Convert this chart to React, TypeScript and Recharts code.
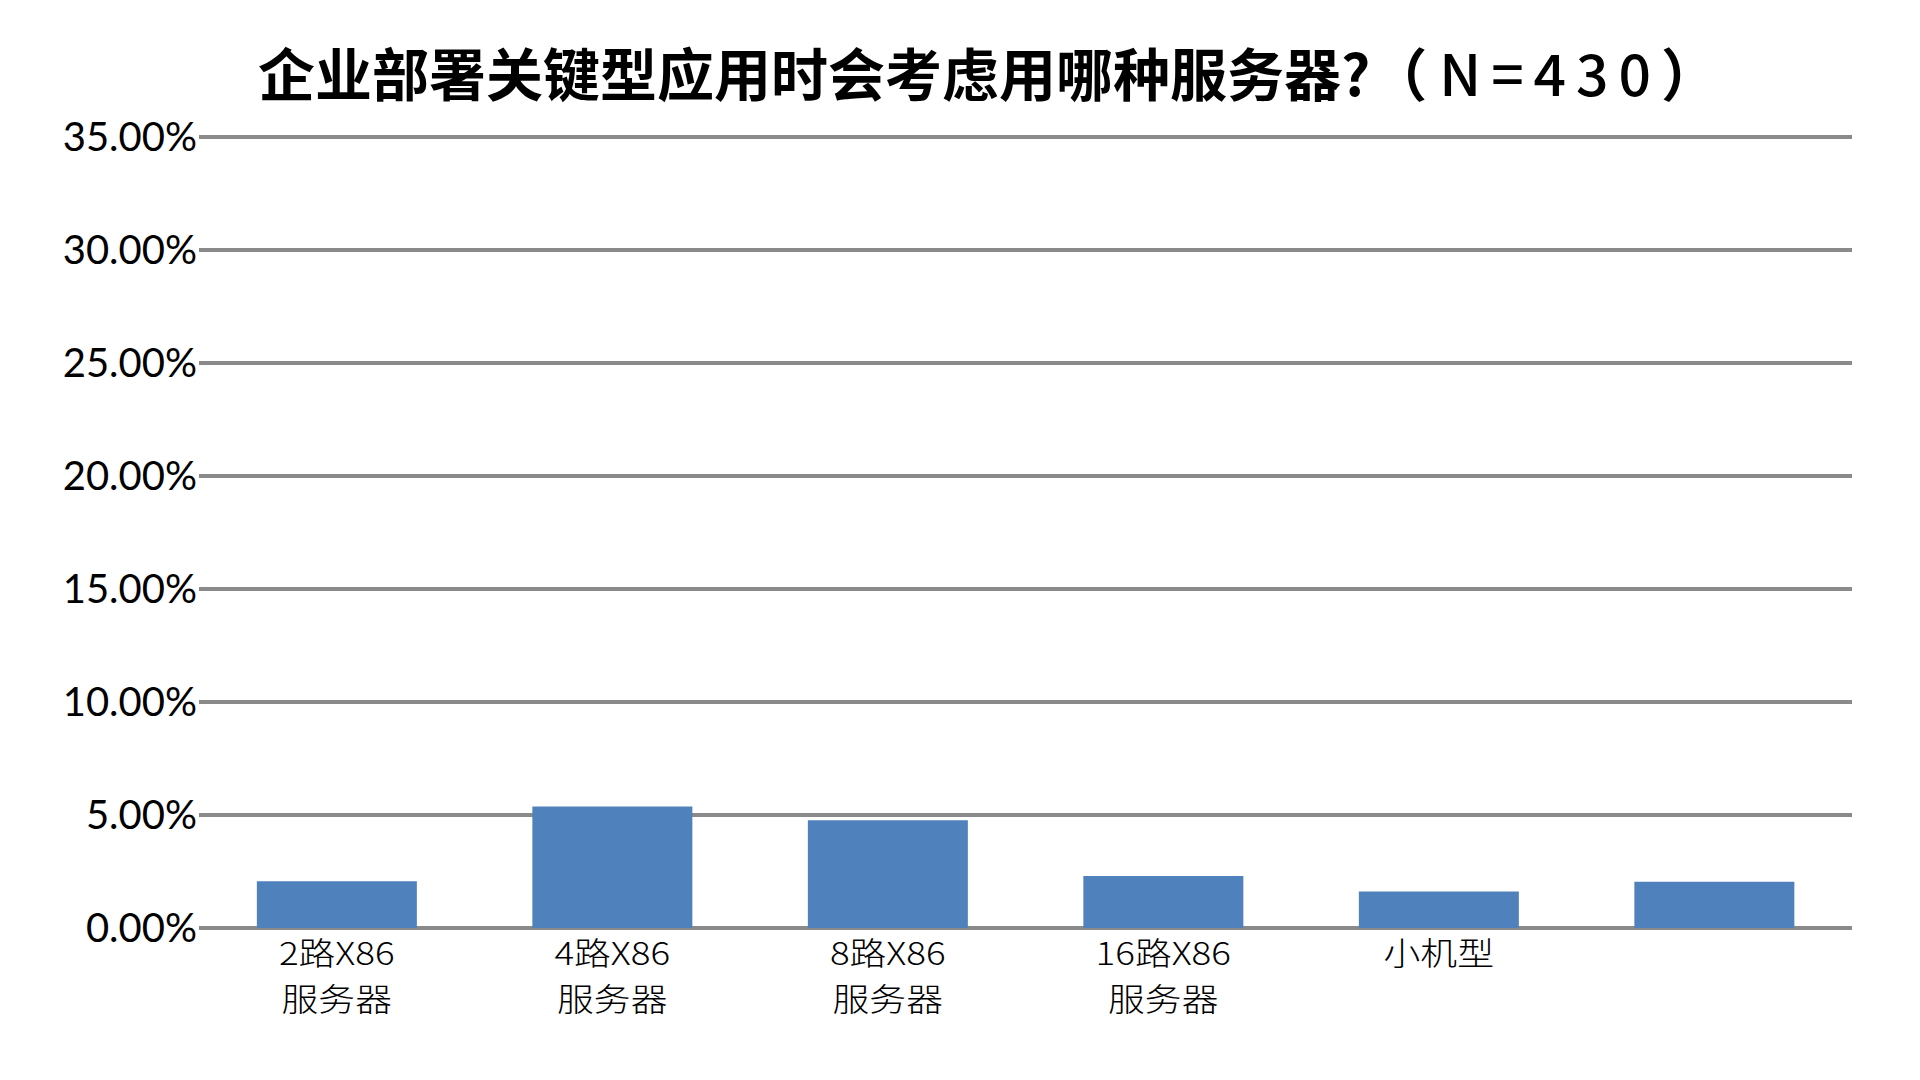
import { BarChart, Bar, XAxis, YAxis, CartesianGrid } from "recharts";

const categories = ["2路X86\n服务器", "4路X86\n服务器", "8路X86\n服务器", "16路X86\n服务器", "小机型", ""];
const shares = [0.0207, 0.0538, 0.0477, 0.023, 0.0162, 0.0205];
const yTicks = [0, 0.05, 0.1, 0.15, 0.2, 0.25, 0.3, 0.35];

const data = categories.map((name, i) => ({ name, share: shares[i] }));

// two-line category label, slightly widened like the original's narrow-tall glyphs
const CategoryTick = (props: any) => {
  const { x, y, payload } = props;
  const lines = String(payload.value).split("\n");
  return (
    <text
      x={0}
      y={0}
      transform={`translate(${x},${y}) scale(1.15,1)`}
      textAnchor="middle"
      fill="#000"
      fontSize={32}
      fontWeight={300}
      fontFamily="'Noto Sans CJK SC', sans-serif"
    >
      {lines.map((line, i) => (
        <tspan key={i} x={0} dy={i === 0 ? 29 : 46.5}>
          {line}
        </tspan>
      ))}
    </text>
  );
};

export default function App() {
  return (
    <div style={{ position: "fixed", top: 0, left: 0, width: 1920, height: 1080, background: "#fff" }}>
      {/* chart title */}
      <div
        style={{
          position: "absolute",
          top: 43,
          left: 258,
          whiteSpace: "nowrap",
          fontFamily: "'Noto Sans CJK SC', sans-serif",
          fontSize: 57,
          lineHeight: "57px",
          fontWeight: 700,
          color: "#000",
        }}
      >
        企业部署关键型应用时会考虑用哪种服务器?（<span style={{ fontWeight: 500, letterSpacing: 10, marginLeft: 12 }}>N=430</span>）
      </div>
      <BarChart
        width={1920}
        height={1080}
        data={data}
        margin={{ top: 137, right: 68, left: 9, bottom: 52 }}
        barCategoryGap="21%"
      >
        <CartesianGrid horizontal vertical={false} stroke="#8a8a8a" strokeWidth={4} />
        <XAxis
          dataKey="name"
          axisLine={false}
          tickLine={false}
          interval={0}
          height={100}
          tick={<CategoryTick />}
        />
        <YAxis
          domain={[0, 0.35]}
          ticks={yTicks}
          width={190}
          axisLine={false}
          tickLine={false}
          tickSize={0}
          tickMargin={2}
          interval={0}
          tickFormatter={(v: number) => `${(v * 100).toFixed(2)}%`}
          tick={{ fill: "#000", fontSize: 40, fontFamily: "Lato, sans-serif" }}
        />
        <Bar dataKey="share" fill="#4f81bd" isAnimationActive={false} />
      </BarChart>
    </div>
  );
}
